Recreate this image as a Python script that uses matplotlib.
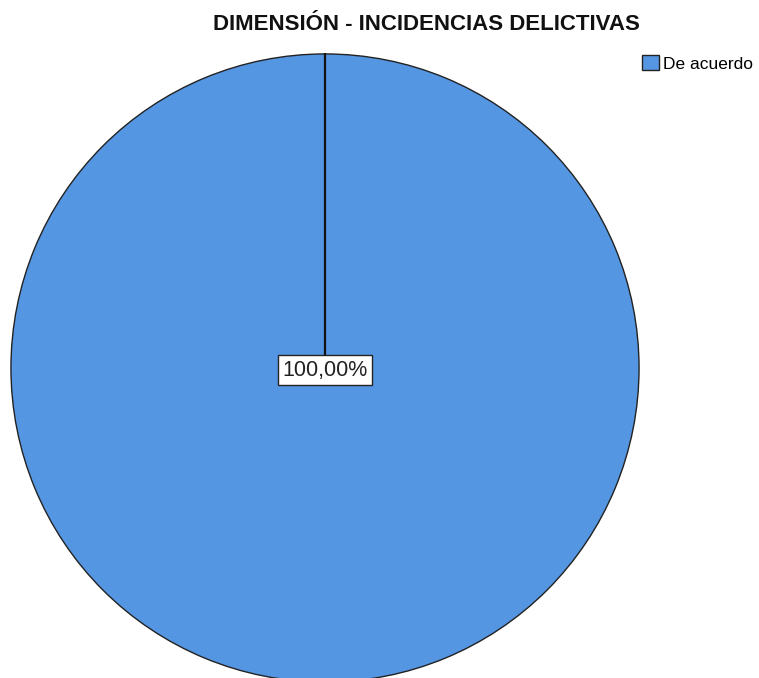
import matplotlib.pyplot as plt
from matplotlib.patches import Patch
import numpy as np

categories = ["De acuerdo"]
percentages = [100.0]
title = "DIMENSIÓN - INCIDENCIAS DELICTIVAS"
colors = ["#5596e3"]

plt.rcParams['font.family'] = ['Liberation Sans', 'DejaVu Sans']

W, H = 759, 678
fig = plt.figure(figsize=(W / 100, H / 100), dpi=100)
# pie box in pixels: left 10, top 53, size 630
ax = fig.add_axes([10 / W, (H - 683) / H, 630 / W, 630 / H])

start = 90
wedges, _ = ax.pie(percentages, colors=colors, startangle=start, counterclock=False,
                   wedgeprops=dict(edgecolor="#222222", linewidth=1.0))
# radial boundary line at the start angle
a = np.deg2rad(start)
ax.plot([0, np.cos(a)], [0, np.sin(a)], color="#111111", lw=1.6, zorder=3)
ax.set_xlim(-1.003, 1.003)
ax.set_ylim(-1.003, 1.003)

lab = f"{percentages[0]:.2f}%".replace(".", ",")
ax.text(0, -0.007, lab, ha="center", va="center", fontsize=15.5, color="#222222", zorder=4,
        bbox=dict(boxstyle="square,pad=0.2", fc="white", ec="#222222", lw=1.0))

fig.text(426 / W, 1 - 24 / H, title, ha="center", va="center", fontsize=16,
         fontweight="bold", color="#111111")

handles = [Patch(facecolor=c, edgecolor="#222222", label=l) for c, l in zip(colors, categories)]
fig.legend(handles=handles, loc="upper left", bbox_to_anchor=(630 / W, 1 - 43 / H),
           frameon=False, fontsize=12.5, handlelength=0.95, handleheight=0.95,
           handletextpad=0.25, borderpad=0.2)

fig.savefig("out.png", dpi=100)
